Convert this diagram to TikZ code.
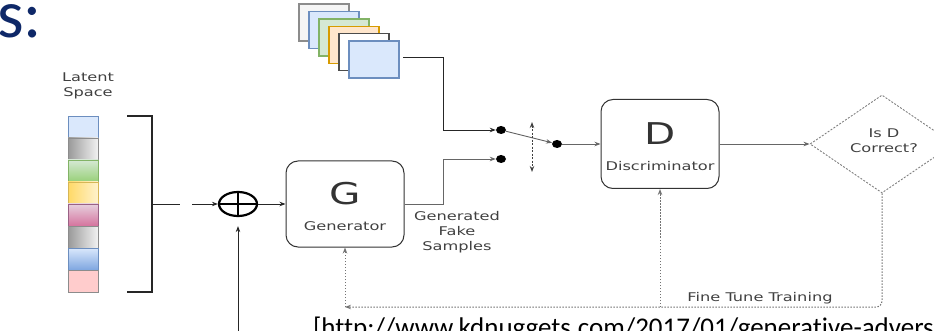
\documentclass[tikz,border=0pt]{standalone}
\usepackage{fontspec}
\usetikzlibrary{arrows.meta,shapes.geometric}
\newfontfamily\lblfont[FakeStretch=1.35]{DejaVu Sans}
\newfontfamily\slidefont[Ligatures=NoCommon]{Carlito}
\definecolor{navy}{RGB}{14,40,104}
\definecolor{lblue}{HTML}{DAE8FC}
\definecolor{bblue}{HTML}{6C8EBF}
\definecolor{mblue}{HTML}{7EA6E0}
\definecolor{lgreen}{HTML}{D5E8D4}
\definecolor{mgreen}{HTML}{97D077}
\definecolor{bgreen}{HTML}{82B366}
\definecolor{lyellow}{HTML}{FFF2CC}
\definecolor{myellow}{HTML}{FFD966}
\definecolor{byellow}{HTML}{D6B656}
\definecolor{lpink}{HTML}{E6D0DE}
\definecolor{mpink}{HTML}{D5739D}
\definecolor{bpink}{HTML}{996185}
\definecolor{lorange}{HTML}{FFE6CC}
\definecolor{borange}{HTML}{D79B00}
\definecolor{lred}{HTML}{FFCCCC}
\definecolor{lgrey}{HTML}{F5F5F5}

\begin{document}
\begin{tikzpicture}[x=1pt,y=-1pt,
  >={Stealth[length=6pt,width=4.5pt]},
  conn/.style={draw=black!85,line width=0.9pt,->},
  fb/.style={draw=black!55,line width=1pt,dash pattern=on 1.5pt off 1.5pt,->},
  block/.style={draw=black!80,line width=1pt,rounded corners=12pt,
    minimum width=118pt,inner sep=0pt},
  cell/.style={line width=0.8pt,minimum width=30pt,minimum height=22pt,inner sep=0pt},
  card/.style={line width=1.5pt,minimum width=50pt,minimum height=37pt,inner sep=0pt},
  lbl/.style={font=\lblfont\fontsize{12}{15}\selectfont,text=black!75,align=center,inner sep=0pt},
  big/.style={font=\lblfont\fontsize{30}{30}\selectfont,text=black!80,inner sep=0pt},
  dot/.style={ellipse,fill=black,minimum width=10pt,minimum height=8pt,inner sep=0pt}]

\useasboundingbox (0,0) rectangle (934,331);

% slide title fragment and reference
\node[anchor=base west,inner sep=0pt,text=navy,font=\slidefont\fontsize{68}{68}\selectfont] (title) at (-3,38) {s:};
\node[anchor=base west,inner sep=0pt,font=\slidefont\fontsize{27}{27}\selectfont] (src) at (313,336)
  {[http://www.kdnuggets.com/2017/01/generative-adversarial};

% latent vector
\node[lbl] (latlbl) at (88,86) {Latent\\Space};
\node[cell,fill=lblue,draw=bblue] (c1) at (83,127) {};
\node[cell,left color=black!40,right color=black!5,draw=black!45] (c2) at (83,149) {};
\node[cell,top color=lgreen,bottom color=mgreen,draw=bgreen] (c3) at (83,171) {};
\node[cell,left color=myellow,right color=lyellow,draw=byellow] (c4) at (83,193) {};
\node[cell,top color=lpink,bottom color=mpink,draw=bpink] (c5) at (83,215) {};
\node[cell,left color=black!40,right color=black!5,draw=black!45] (c6) at (83,237) {};
\node[cell,top color=lblue,bottom color=mblue,draw=bblue] (c7) at (83,259) {};
\node[cell,fill=lred,draw=black!45] (c8) at (83,281) {};

% bracket gathering the latent vector
\draw[black!85,line width=1.8pt] (127,116) -- (152,116) -- (152,292) -- (127,292);
\draw[black!85,line width=0.9pt] (152,204) -- (180,204);
\coordinate (zin) at (192,204);

% sum junction
\node[ellipse,draw=black,line width=2.2pt,minimum width=38pt,minimum height=24pt,inner sep=0pt] (sum) at (238,204) {};
\draw[black,line width=2pt] (sum.north) -- (sum.south) (sum.west) -- (sum.east);
\coordinate (noise) at (238,335);

% generator
\node[block,minimum height=86pt] (gen) at (345,204) {};
\node[big] (gletter) at (345,194) {G};
\node[lbl] (gname) at (345,226) {Generator};
\node[lbl] (fake) at (457,232) {Generated\\Fake\\Samples};

% real sample stack
\node[card,fill=lgrey,draw=black!45] (img1) at (324,22.5) {};
\node[card,fill=lblue,draw=bblue] (img2) at (334,30) {};
\node[card,fill=lgreen,draw=bgreen] (img3) at (344,37.5) {};
\node[card,fill=lorange,draw=borange] (img4) at (354,45) {};
\node[card,fill=white,draw=black!70] (img5) at (364,52) {};
\node[card,fill=lblue,draw=bblue] (img6) at (374,59.5) {};
\coordinate (realsrc) at (403,57);

% switch
\node[dot] (sw1) at (501,130) {};
\node[dot] (sw2) at (501,159) {};
\node[dot] (sw3) at (557,144) {};
\coordinate (tgtop) at (532,122);
\coordinate (tgbot) at (532,172);

% discriminator and decision
\node[block,minimum height=89pt] (disc) at (660,144) {};
\node[big] (dletter) at (660,134) {D};
\node[lbl] (dname) at (660,166) {Discriminator};
\node[diamond,draw=black!50,line width=0.9pt,dash pattern=on 2pt off 1.5pt,
  minimum width=144pt,minimum height=98pt,inner sep=0pt] (isd) at (882,144) {};
\node[lbl] (isdtxt) at (884,141) {Is D\\Correct?};

% connectors
\draw[conn] (zin) -- (sum.west);
\draw[conn] (noise) -- ([yshift=-9pt]sum.south);
\draw[conn] (sum.east) -- (gen.west);
\draw[conn,draw=black!60] (gen.east) -- ++(39,0) |- (sw2.west);
\draw[conn] (realsrc) -- ++(40,0) |- (sw1.west);
\draw[conn,draw=black!60] (sw1) -- (sw3);
\draw[black!75,line width=1pt,dash pattern=on 2pt off 1.5pt,<->] (tgtop) -- (tgbot);
\draw[conn,draw=black!60] (sw3.east) -- (sw3.east -| disc.west);
\draw[conn,draw=black!60] (disc.east) -- (isd.west);

% fine tuning feedback
\coordinate (ftg) at (345,307);
\coordinate (ftd) at (660,307);
\draw[fb,rounded corners=6pt] (isd.south) |- (ftg);
\draw[fb] (ftg) -- (gen.south);
\draw[fb] (ftd) -- (disc.south);
\node[lbl,fill=white,inner sep=1pt] (ftlbl) at (760,298) {Fine Tune Training};
\end{tikzpicture}
\end{document}
